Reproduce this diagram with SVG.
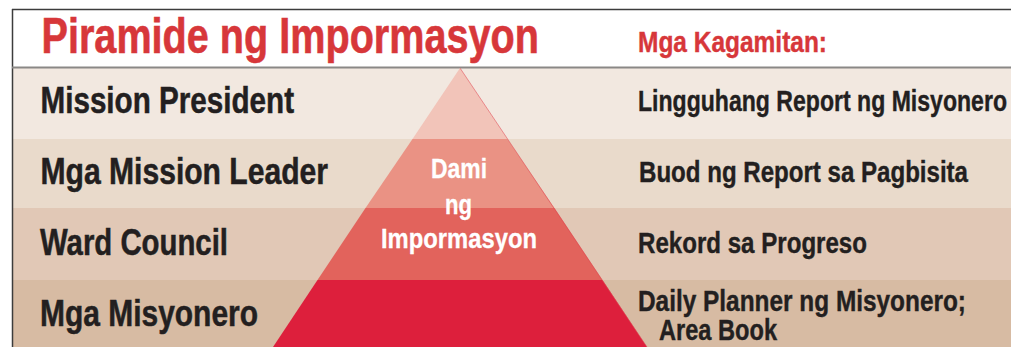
<svg xmlns="http://www.w3.org/2000/svg" width="1011" height="347" viewBox="0 0 1011 347">
<style>
  text { font-family: "Liberation Sans Narrow", "Liberation Sans", Arial, sans-serif; font-weight: bold; }
  .title { fill: #D7373A; stroke: #D7373A; stroke-width: 0.6px; font-size: 50px; }
  .head { fill: #D7373A; stroke: #D7373A; stroke-width: 0.4px; font-size: 29px; }
  .lvl { fill: #231F20; stroke: #231F20; stroke-width: 0.5px; font-size: 36px; }
  .tool { fill: #231F20; stroke: #231F20; stroke-width: 0.4px; font-size: 30px; }
  .tool2 { fill: #231F20; stroke: #231F20; stroke-width: 0.4px; font-size: 29px; }
  .pyr { fill: #FFFFFF; stroke: #FFFFFF; stroke-width: 0.3px; font-size: 28px; }
</style>
<rect x="0" y="0" width="1011" height="347" fill="#FFFFFF"/>
<g id="bands">
  <rect x="12" y="68" width="999" height="71" fill="#F2E8E0"/>
  <rect x="12" y="139" width="999" height="69" fill="#E9DACB"/>
  <rect x="12" y="208" width="999" height="72" fill="#E1C8B6"/>
  <rect x="12" y="280" width="999" height="67" fill="#D7BBA3"/>
</g>
<g id="frame">
  <line x1="12" y1="9.5" x2="1011" y2="9.5" stroke="#3C3C3C" stroke-width="1.5"/>
  <line x1="12.5" y1="9" x2="12.5" y2="347" stroke="#3C3C3C" stroke-width="1.5"/>
  <line x1="12" y1="67.5" x2="1011" y2="67.5" stroke="#8A8886" stroke-width="2"/>
</g>
<g id="pyramid">
  <polygon points="460,68 412.5,139 507.5,139" fill="#F2C4B9"/>
  <polygon points="412.5,139 507.5,139 554.5,208 365.5,208" fill="#EA9284"/>
  <polygon points="365.5,208 554.5,208 602.5,280 317.5,280" fill="#E2635C"/>
  <polygon points="317.5,280 602.5,280 647,347 273,347" fill="#DD1F3C"/>
  <line x1="460" y1="68" x2="647" y2="347" stroke="#E04A55" stroke-width="0.8" stroke-opacity="0.7"/>
</g>
<g id="title">
  <text class="title" x="41.5" y="53" textLength="497.5" lengthAdjust="spacingAndGlyphs">Piramide ng Impormasyon</text>
</g>
<g id="tools-heading">
  <text class="head" x="638" y="52" textLength="189" lengthAdjust="spacingAndGlyphs">Mga Kagamitan:</text>
</g>
<g id="level-mission-president">
  <text class="lvl" x="40.5" y="113" textLength="253.5" lengthAdjust="spacingAndGlyphs">Mission President</text>
  <text class="tool" x="638" y="110.5" textLength="369" lengthAdjust="spacingAndGlyphs">Lingguhang Report ng Misyonero</text>
</g>
<g id="level-mission-leader">
  <text class="lvl" x="40.5" y="184" textLength="287.5" lengthAdjust="spacingAndGlyphs">Mga Mission Leader</text>
  <text class="tool" x="639" y="182" textLength="329" lengthAdjust="spacingAndGlyphs">Buod ng Report sa Pagbisita</text>
</g>
<g id="level-ward-council">
  <text class="lvl" x="40" y="255" textLength="188" lengthAdjust="spacingAndGlyphs">Ward Council</text>
  <text class="tool" x="638" y="253" textLength="229" lengthAdjust="spacingAndGlyphs">Rekord sa Progreso</text>
</g>
<g id="level-missionaries">
  <text class="lvl" x="40" y="326" textLength="218" lengthAdjust="spacingAndGlyphs">Mga Misyonero</text>
  <text class="tool2" x="638" y="311" textLength="328" lengthAdjust="spacingAndGlyphs">Daily Planner ng Misyonero;</text>
  <text class="tool2" x="659" y="340" textLength="118" lengthAdjust="spacingAndGlyphs">Area Book</text>
</g>
<g id="pyramid-label">
  <text class="pyr" x="431" y="178" textLength="56" lengthAdjust="spacingAndGlyphs">Dami</text>
  <text class="pyr" x="445" y="213.5" textLength="27" lengthAdjust="spacingAndGlyphs">ng</text>
  <text class="pyr" x="381" y="248" textLength="156" lengthAdjust="spacingAndGlyphs">Impormasyon</text>
</g>
<g id="connectors"/>
</svg>
